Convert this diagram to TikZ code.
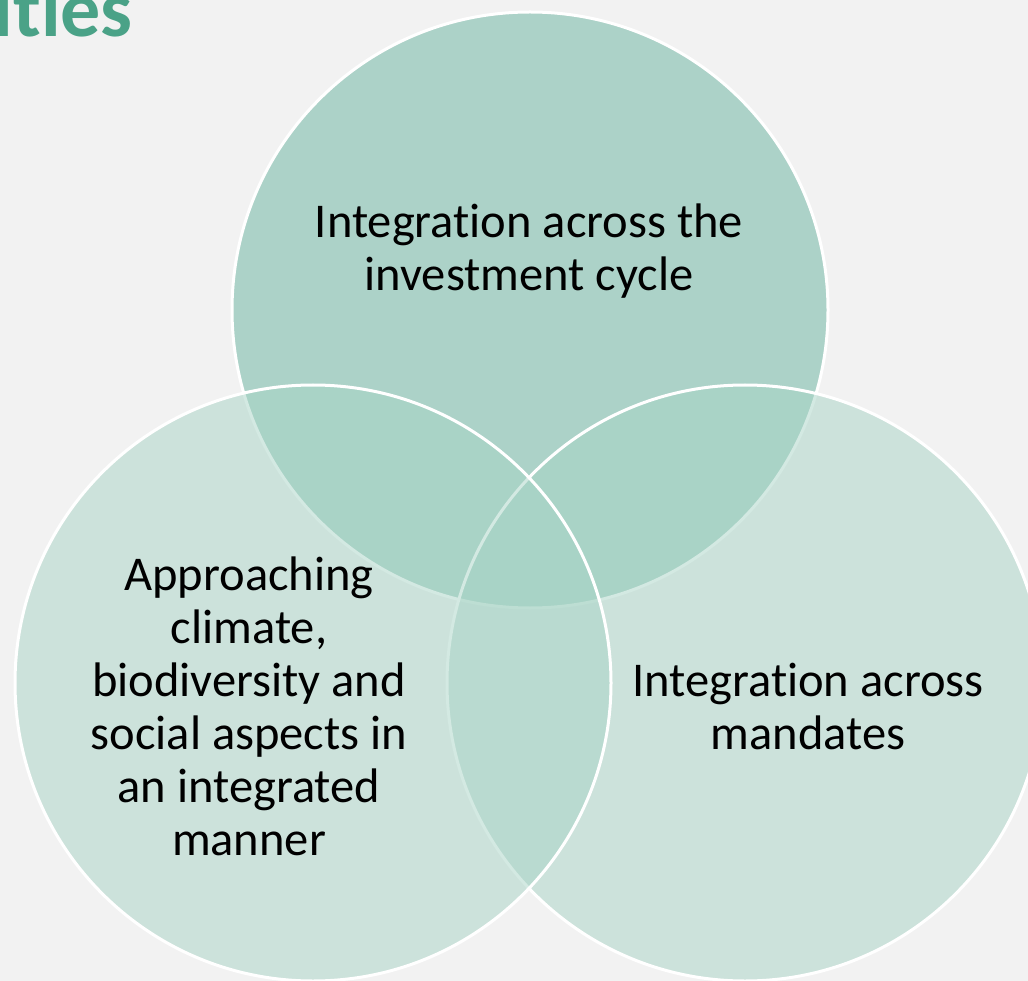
\documentclass[tikz,border=0pt]{standalone}
\usepackage{fontspec}
\setmainfont{Carlito}[Ligatures=NoCommon]
\definecolor{bg}{HTML}{F2F2F2}
\definecolor{topfill}{HTML}{ACD2C8}
\definecolor{lowfill}{HTML}{A8D4C6}
\definecolor{titlecol}{HTML}{4AA287}
\begin{document}
\begin{tikzpicture}[x=1pt,y=-1pt,
  venn/.style={circle, draw=white, line width=3pt, minimum size=596pt, inner sep=0pt},
  lbl/.style={align=center, font=\fontsize{48.5}{53}\selectfont, text=black, inner sep=0pt}]
\fill[bg] (0,0) rectangle (1028,981);
\useasboundingbox (0,0) rectangle (1028,981);
\begin{scope}
\clip (0,0) rectangle (1028,981);
\node[anchor=base east, text=titlecol, font=\fontsize{80}{90}\selectfont\bfseries, inner sep=0pt] (title) at (133,37) {ities};
\node[venn, fill=topfill] (top) at (530,310) {};
\node[venn, fill=lowfill, fill opacity=0.5] (right) at (745,683) {};
\node[venn, fill=lowfill, fill opacity=0.5] (left) at (313,683) {};
\end{scope}
\node[lbl] (ttop) at (529,251) {Integration across the\\investment cycle};
\node[lbl] (tleft) at (249,706) {Approaching\\climate,\\biodiversity and\\social aspects in\\an integrated\\manner};
\node[lbl] (tright) at (808,706) {Integration across\\mandates};
\end{tikzpicture}
\end{document}
